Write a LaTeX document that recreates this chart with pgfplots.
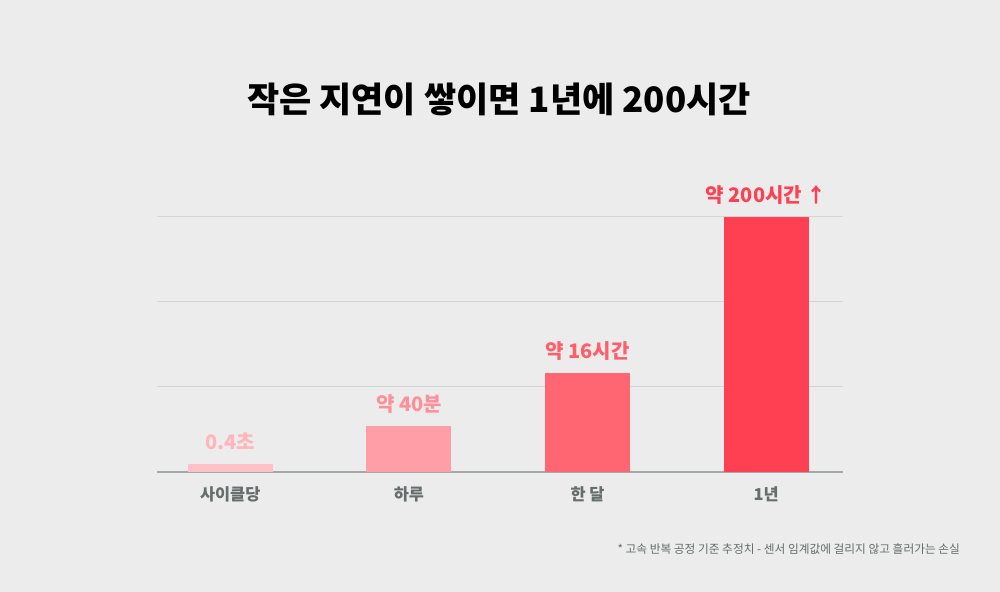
\documentclass[border=0pt]{standalone}
\usepackage{pgfplots}
\pgfplotsset{compat=1.18}
\usepackage{fontspec}
\setmainfont{Noto Sans CJK KR}

\definecolor{bg}{HTML}{EBECEB}
\definecolor{gridc}{HTML}{D4D6D6}
\definecolor{axisc}{HTML}{A3A8A8}
\definecolor{tickc}{HTML}{676C6D}
\definecolor{cA}{HTML}{FFC1C6}
\definecolor{cB}{HTML}{FF9EA6}
\definecolor{cC}{HTML}{FF6671}
\definecolor{cD}{HTML}{FF3F52}
\definecolor{lA}{HTML}{FFB5BC}
\definecolor{lB}{HTML}{FF909A}
\definecolor{lC}{HTML}{FF5E6A}
\definecolor{lD}{HTML}{FF3F52}

\begin{document}
\begin{tikzpicture}[x=1pt,y=1pt]
% canvas
\fill[bg] (0,0) rectangle (500,296);
% title
\node[anchor=base, font=\fontsize{17.5}{21}\selectfont\bfseries, text=black]
  at (249.5,239.5) {작은 지연이 쌓이면 1년에 200시간};

\begin{axis}[
  at={(78.5pt,60pt)}, anchor=south west,
  scale only axis, width=343pt, height=127.5pt,
  xmin=-0.41, xmax=3.43, ymin=0, ymax=3,
  clip=false,
  ybar, bar width=42.5pt, bar shift=0pt,
  axis x line*=bottom, axis y line*=left,
  x axis line style={axisc, line width=0.6pt, -},
  y axis line style={draw=none},
  xtick={0,1,2,3},
  xticklabels={사이클당, 하루, 한 달, 1년},
  xticklabel style={anchor=base, yshift=-14.2pt, text=tickc,
    font=\fontsize{8.2}{10}\selectfont\bfseries},
  major tick length=0pt,
  ytick={1,2,3},
  yticklabel=\empty,
  ymajorgrids, grid style={gridc, line width=0.5pt},
  point meta=explicit symbolic,
  nodes near coords,
  every node near coord/.append style={anchor=base, yshift=7.2pt,
    font=\fontsize{10}{12}\selectfont\bfseries},
]
\addplot[fill=cA, draw=none, every node near coord/.append style={text=lA}]
  coordinates {(0,0.094) [0.4초]};
\addplot[fill=cB, draw=none, every node near coord/.append style={text=lB}]
  coordinates {(1,0.54) [약 40분]};
\addplot[fill=cC, draw=none, every node near coord/.append style={text=lC}]
  coordinates {(2,1.165) [약 16시간]};
\addplot[fill=cD, draw=none, every node near coord/.append style={text=lD}]
  coordinates {(3,3) [약 200시간 ↑]};
\end{axis}

% footnote
\node[anchor=base east, font=\fontsize{5.85}{7}\selectfont, text=tickc]
  at (483.5,19) {* 고속 반복 공정 기준 추정치 - 센서 임계값에 걸리지 않고 흘러가는 손실};
\end{tikzpicture}
\end{document}
